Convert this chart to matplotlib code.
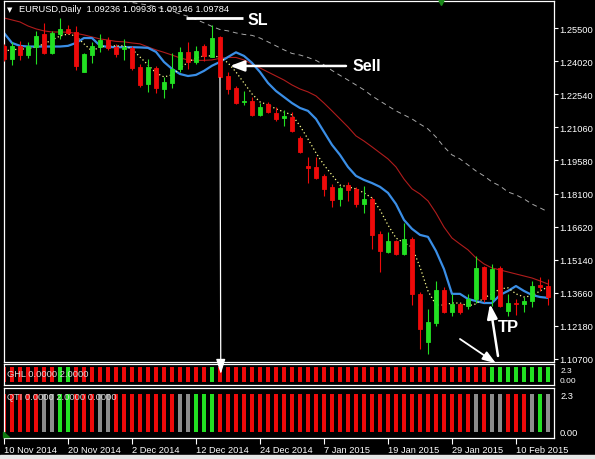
import numpy as np
import matplotlib.pyplot as plt
from matplotlib.patches import ConnectionPatch, Rectangle, Polygon

plt.rcParams['font.family'] = ['Liberation Sans', 'DejaVu Sans']

# Velas diarias EURUSD (10 Nov 2014 - 16 Feb 2015)
opens = [1.2471, 1.2412, 1.2469, 1.2430, 1.2465, 1.2524, 1.2439, 1.2524, 1.2547, 1.2532,
         1.2356, 1.2432, 1.2468, 1.2498, 1.2465, 1.2456, 1.2460, 1.2378, 1.2300, 1.2372,
         1.2278, 1.2304, 1.2368, 1.2445, 1.2398, 1.2469, 1.2423, 1.2510, 1.2338, 1.2281,
         1.2219, 1.2226, 1.2163, 1.2211, 1.2171, 1.2148, 1.2154, 1.2058, 1.1935, 1.1930,
         1.1887, 1.1838, 1.1786, 1.1849, 1.1831, 1.1763, 1.1786, 1.1629, 1.1549, 1.1599,
         1.1540, 1.1607, 1.1361, 1.1144, 1.1231, 1.1379, 1.1281, 1.1316, 1.1306, 1.1338,
         1.1480, 1.1338, 1.1476, 1.1286, 1.1320, 1.1316, 1.1331, 1.1401, 1.1398]
highs = [1.2480, 1.2487, 1.2492, 1.2487, 1.2539, 1.2572, 1.2539, 1.2596, 1.2566, 1.2559,
         1.2439, 1.2487, 1.2524, 1.2512, 1.2480, 1.2502, 1.2469, 1.2390, 1.2412, 1.2382,
         1.2331, 1.2438, 1.2465, 1.2490, 1.2472, 1.2480, 1.2565, 1.2517, 1.2353, 1.2293,
         1.2269, 1.2240, 1.2214, 1.2219, 1.2198, 1.2184, 1.2174, 1.2066, 1.1975, 1.1972,
         1.1898, 1.1853, 1.1845, 1.1863, 1.1838, 1.1845, 1.1793, 1.1644, 1.1638, 1.1604,
         1.1677, 1.1614, 1.1371, 1.1293, 1.1420, 1.1391, 1.1361, 1.1320, 1.1361, 1.1529,
         1.1485, 1.1495, 1.1485, 1.1361, 1.1338, 1.1346, 1.1420, 1.1438, 1.1428]
lows = [1.2404, 1.2387, 1.2409, 1.2416, 1.2390, 1.2435, 1.2435, 1.2502, 1.2524, 1.2365,
        1.2353, 1.2393, 1.2442, 1.2454, 1.2420, 1.2409, 1.2365, 1.2287, 1.2265, 1.2260,
        1.2238, 1.2283, 1.2353, 1.2368, 1.2390, 1.2405, 1.2420, 1.2331, 1.2256, 1.2211,
        1.2208, 1.2159, 1.2159, 1.2169, 1.2134, 1.2114, 1.2087, 1.1992, 1.1856, 1.1875,
        1.1801, 1.1749, 1.1756, 1.1778, 1.1749, 1.1723, 1.1562, 1.1458, 1.1544, 1.1535,
        1.1535, 1.1311, 1.1114, 1.1092, 1.1219, 1.1276, 1.1264, 1.1271, 1.1293, 1.1320,
        1.1326, 1.1308, 1.1301, 1.1264, 1.1267, 1.1279, 1.1301, 1.1375, 1.1311]
closes = [1.2412, 1.2472, 1.2430, 1.2469, 1.2514, 1.2439, 1.2529, 1.2547, 1.2529, 1.2380,
          1.2435, 1.2472, 1.2498, 1.2460, 1.2435, 1.2465, 1.2372, 1.2296, 1.2375, 1.2283,
          1.2308, 1.2368, 1.2445, 1.2400, 1.2450, 1.2424, 1.2505, 1.2333, 1.2278, 1.2216,
          1.2226, 1.2163, 1.2196, 1.2177, 1.2144, 1.2155, 1.2092, 1.1995, 1.1926, 1.1880,
          1.1831, 1.1783, 1.1834, 1.1827, 1.1763, 1.1786, 1.1626, 1.1555, 1.1599, 1.1540,
          1.1607, 1.1361, 1.1204, 1.1234, 1.1379, 1.1279, 1.1316, 1.1279, 1.1338, 1.1476,
          1.1338, 1.1472, 1.1308, 1.1320, 1.1314, 1.1331, 1.1398, 1.1391, 1.1346]

# Medias móviles
ma_blue = [1.2529, 1.2484, 1.2471, 1.2468, 1.2468, 1.2468, 1.2468, 1.2468, 1.2471, 1.2484,
           1.2506, 1.2506, 1.2472, 1.2466, 1.2465, 1.2465, 1.2465, 1.2464, 1.2462, 1.2444,
           1.2399, 1.2368, 1.2345, 1.2336, 1.2341, 1.2359, 1.2382, 1.2399, 1.2421, 1.2442,
           1.2426, 1.2395, 1.2354, 1.2305, 1.2269, 1.2242, 1.2215, 1.2193, 1.2180, 1.2144,
           1.2086, 1.2028, 1.1983, 1.1929, 1.1889, 1.1871, 1.1857, 1.1840, 1.1813, 1.1763,
           1.1692, 1.1652, 1.1625, 1.1616, 1.1553, 1.1472, 1.1361, 1.1361, 1.1338, 1.1329,
           1.1320, 1.1320, 1.1356, 1.1374, 1.1396, 1.1374, 1.1356, 1.1347, 1.1343]
ma_red = [1.2596, 1.2587, 1.2578, 1.2560, 1.2547, 1.2538, 1.2533, 1.2533, 1.2532, 1.2527,
          1.2520, 1.2511, 1.2502, 1.2497, 1.2491, 1.2489, 1.2484, 1.2480, 1.2466, 1.2453,
          1.2442, 1.2430, 1.2417, 1.2408, 1.2406, 1.2406, 1.2408, 1.2415, 1.2419, 1.2419,
          1.2408, 1.2390, 1.2372, 1.2354, 1.2336, 1.2318, 1.2296, 1.2278, 1.2265, 1.2247,
          1.2215, 1.2180, 1.2144, 1.2108, 1.2068, 1.2045, 1.2019, 1.1992, 1.1965, 1.1929,
          1.1875, 1.1831, 1.1808, 1.1777, 1.1723, 1.1660, 1.1611, 1.1584, 1.1558, 1.1522,
          1.1495, 1.1477, 1.1468, 1.1459, 1.1450, 1.1441, 1.1432, 1.1419, 1.1405]
ma_grey = [np.nan] * 15 + [
           1.2672, 1.2665, 1.2659, 1.2654, 1.2645,
           1.2636, 1.2625, 1.2614, 1.2603, 1.2589, 1.2574, 1.2558, 1.2544, 1.2538, 1.2529,
           1.2522, 1.2518, 1.2506, 1.2489, 1.2471, 1.2453, 1.2437, 1.2430, 1.2419, 1.2406,
           1.2386, 1.2361, 1.2339, 1.2318, 1.2296, 1.2274, 1.2247, 1.2224, 1.2202, 1.2180,
           1.2162, 1.2144, 1.2121, 1.2099, 1.2063, 1.2019, 1.1983, 1.1965, 1.1938, 1.1911,
           1.1889, 1.1862, 1.1844, 1.1817, 1.1804, 1.1786, 1.1763, 1.1746, 1.1728]
ma_yellow = [1.2448, 1.2453, 1.2457, 1.2457, 1.2466, 1.2480, 1.2497, 1.2515, 1.2524, 1.2515,
             1.2480, 1.2448, 1.2466, 1.2471, 1.2471, 1.2471, 1.2457, 1.2421, 1.2386, 1.2350,
             1.2332, 1.2341, 1.2368, 1.2399, 1.2417, 1.2426, 1.2426, 1.2421, 1.2395, 1.2354,
             1.2305, 1.2256, 1.2220, 1.2207, 1.2189, 1.2175, 1.2162, 1.2113, 1.2054, 1.1992,
             1.1938, 1.1893, 1.1848, 1.1840, 1.1831, 1.1813, 1.1790, 1.1737, 1.1669, 1.1611,
             1.1589, 1.1571, 1.1481, 1.1374, 1.1311, 1.1311, 1.1320, 1.1320, 1.1307, 1.1316,
             1.1343, 1.1361, 1.1383, 1.1388, 1.1361, 1.1347, 1.1352, 1.1374, 1.1392]

# Indicadores: R = rojo, G = verde, S = gris
ghl_state = "R" * 7 + "GG" + "R" * 17 + "G" + "R" * 34 + "G" * 8
qti_state = ("RRRRRSSGGRRRSSRRRRRRRRSSGGG" + "R" * 32 + "SRSSRRRSGS")
ghl_value = 2.0
qti_value = 2.0

price_ticks = [1.25500, 1.24020, 1.22540, 1.21060, 1.19580, 1.18100,
               1.16620, 1.15140, 1.13660, 1.12180, 1.10700]
date_labels = ['10 Nov 2014', '20 Nov 2014', '2 Dec 2014', '12 Dec 2014', '24 Dec 2014',
               '7 Jan 2015', '19 Jan 2015', '29 Jan 2015', '10 Feb 2015']
header = 'EURUSD,Daily  1.09236 1.09936 1.09146 1.09784'

n = len(closes)
x = np.arange(n)
o = np.array(opens); c = np.array(closes)
up = c >= o
RED, GREEN, GREY = '#ee0a0a', '#22e022', '#8c8c8c'
state_col = {'R': RED, 'G': GREEN, 'S': GREY}

W, H = 595, 460
fig = plt.figure(figsize=(W / 100, H / 100), dpi=100, facecolor='black')

def box(x0, y0, x1, y1):
    return [x0 / W, 1 - y1 / H, (x1 - x0) / W, (y1 - y0) / H]

ax = fig.add_axes(box(3.5, 1.5, 553.5, 363))
ax_g = fig.add_axes(box(3.5, 365.3, 553.5, 386))
ax_q = fig.add_axes(box(3.5, 389.3, 553.5, 438.5))

for a in (ax, ax_g, ax_q):
    a.set_facecolor('black')
    a.set_xlim(-0.06, 68.69)
    for s in a.spines.values():
        s.set_color('white')
        s.set_linewidth(0.9)

# --- panel principal ---
ax.set_ylim(1.1056, 1.2674)
ax.plot(x, ma_grey, color='#a8a8a8', lw=0.7, dashes=(5, 4), zorder=1)
ax.plot(x, ma_red, color='#b01c1c', lw=0.8, zorder=1)
ax.plot(x, ma_blue, color='#3a8ee6', lw=1.6, zorder=1)
ax.plot(x, ma_yellow, color='#ffff90', lw=0.9, dashes=(1, 2), zorder=1)

cols = np.where(up, GREEN, RED)
ax.vlines(x, lows, highs, colors=cols, lw=0.8, zorder=3)
ax.bar(x, np.abs(c - o), bottom=np.minimum(o, c), width=0.6, color=cols,
       edgecolor=cols, linewidth=0.6, zorder=3)

ax.set_xticks([])
ax.set_yticks(price_ticks)
ax.set_yticklabels([f'{p:.5f}' for p in price_ticks])
ax.tick_params(axis='y', left=False, labelleft=False, right=True, labelright=True,
               colors='white', length=3, width=0.8, labelsize=6.7, pad=1.5)

# anotaciones SL / Sell / TP
sl_price = 1.2595
ax.hlines(sl_price, 22.75, 29.9, colors='white', lw=2)
ax.text(30.4, 1.2587, 'SL', color='white', fontsize=11.5, fontweight='bold', va='center')
ax.annotate('', xy=(28.25, 1.2381), xytext=(42.75, 1.2381),
            arrowprops=dict(arrowstyle='-|>,head_length=0.85,head_width=0.32',
                            color='white', lw=1.8, shrinkA=0, shrinkB=0))
ax.text(43.6, 1.2381, 'Sell', color='white', fontsize=11.5, fontweight='bold', va='center')
ax.text(61.75, 1.1215, 'TP', color='white', fontsize=12, fontweight='bold', va='center')
ax.annotate('', xy=(60.75, 1.1316), xytext=(61.75, 1.1083), annotation_clip=False,
            arrowprops=dict(arrowstyle='-|>,head_length=0.85,head_width=0.3',
                            color='white', lw=1.8, shrinkA=0, shrinkB=0))
ax.annotate('', xy=(61.5, 1.1050), xytext=(57, 1.1159), annotation_clip=False,
            arrowprops=dict(arrowstyle='-|>,head_length=0.8,head_width=0.28',
                            color='white', lw=1.3, shrinkA=0, shrinkB=0, clip_on=False))

# --- GHL ---
ax_g.set_ylim(-0.36, 2.4)
ax_g.bar(x, [ghl_value] * n, width=0.42, color=[state_col[s] for s in ghl_state], zorder=2)
ax_g.set_xticks([]); ax_g.set_yticks([])
ax_g.text(0.0064, 0.546, 'GHL 0.0000 2.0000', transform=ax_g.transAxes, color='#d8d8d8',
          fontsize=6.7, va='center', zorder=4)
ax_g.text(1.012, 0.72, '2.3', transform=ax_g.transAxes, color='white', fontsize=6, va='center')
ax_g.text(1.012, 0.2, '0.00', transform=ax_g.transAxes, color='white', fontsize=6, va='center')

# --- QTI ---
ax_q.set_ylim(-0.29, 2.32)
ax_q.bar(x, [qti_value] * n, width=0.42, color=[state_col[s] for s in qti_state], zorder=2)
ax_q.set_yticks([])
ax_q.text(0.0064, 0.837, 'QTI 0.0000 2.0000 0.0000', transform=ax_q.transAxes,
          color='#d8d8d8', fontsize=6.7, va='center', zorder=4)
ax_q.text(1.012, 0.854, '2.3', transform=ax_q.transAxes, color='white', fontsize=6.7, va='center')
ax_q.text(1.012, 0.106, '0.00', transform=ax_q.transAxes, color='white', fontsize=6.7, va='center')
ax_q.add_patch(Polygon([(0, 0), (0.011, 0), (0, 0.11)], closed=True, transform=ax_q.transAxes,
                       color='#0f7a0f', zorder=5, clip_on=False))

ax_q.set_xticks(range(0, n, 8))
ax_q.set_xticklabels(date_labels, ha='left')
ax_q.tick_params(axis='x', colors='white', length=4, width=0.8, labelsize=6.7, pad=1.5)

# línea vertical de la entrada hacia el panel GHL
con = ConnectionPatch(xyA=(27.0, 1.2328), coordsA=ax.transData,
                      xyB=(27.1, 1.1), coordsB=ax_g.transData,
                      arrowstyle='-|>,head_length=0.9,head_width=0.28',
                      color='white', lw=0.9, shrinkA=0, shrinkB=0, zorder=10)
fig.add_artist(con)

# marcador verde superior
ax.plot([54.6], [1.0], transform=ax.get_xaxis_transform(), marker='v', ms=6,
        color='#1a8a1a', clip_on=False, zorder=6)

# cabecera
fig.text(7 / W, 1 - 10 / H, '▼', color='white', fontsize=5, va='center',
         family=['DejaVu Sans'])
fig.text(19 / W, 1 - 10 / H, header, color='white', fontsize=6.7, va='center')

fig.add_artist(Rectangle((0, 0), 1, 4 / H, transform=fig.transFigure,
                         color='#e6e6e6', zorder=0))

plt.savefig('out.png', dpi=100, facecolor='black')
